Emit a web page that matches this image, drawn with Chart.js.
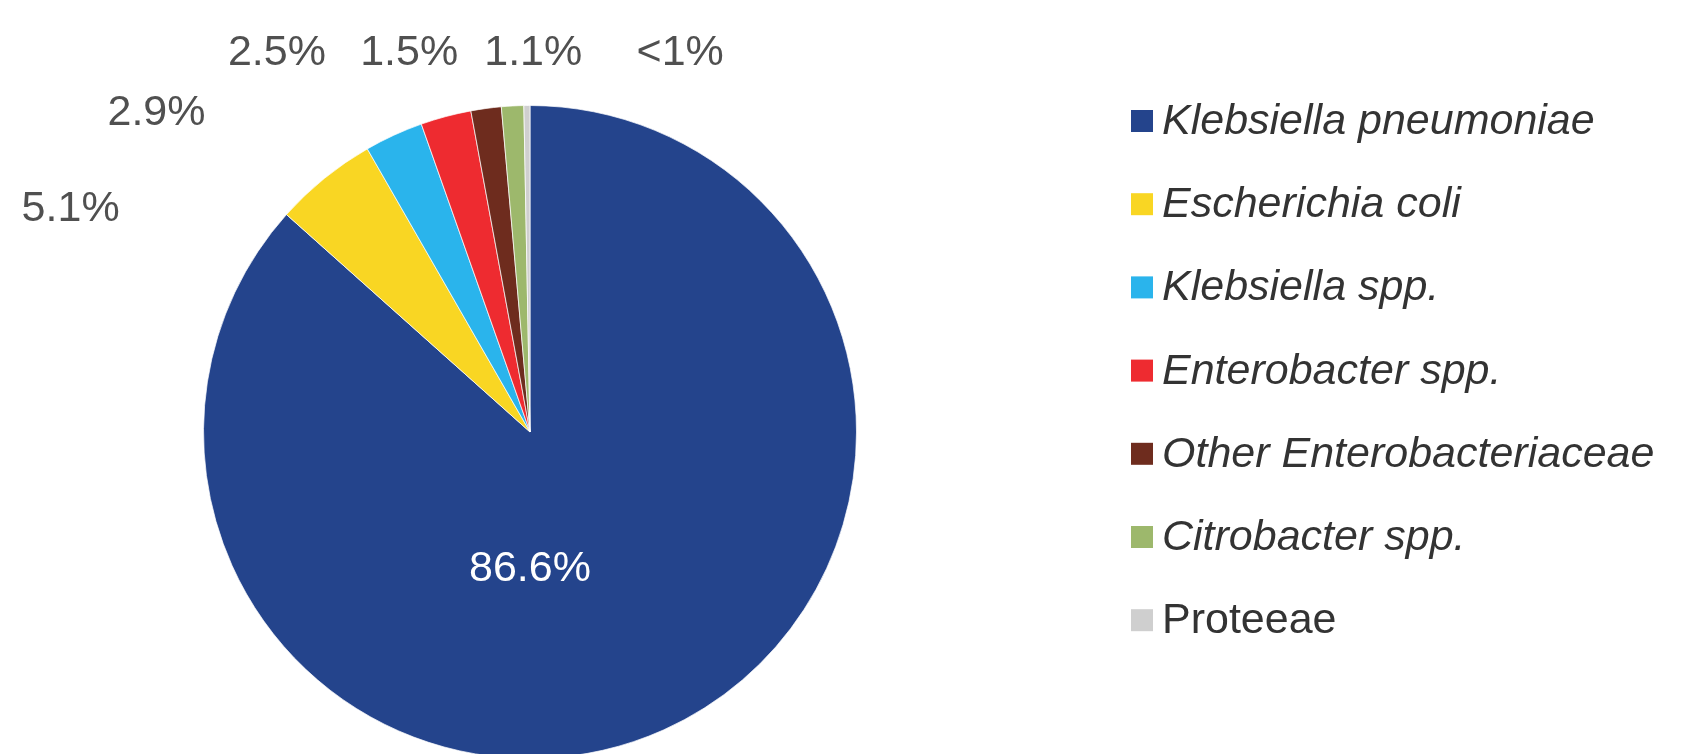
<!DOCTYPE html>
<html>
<head>
<meta charset="utf-8">
<script src="https://cdn.jsdelivr.net/npm/chart.js@4/dist/chart.umd.min.js"></script>
<style>
  html, body { margin: 0; padding: 0; background: #fff; overflow: hidden; }
  #wrap { position: absolute; left: 0; top: 0; width: 1683px; height: 800px; }
</style>
</head>
<body>
<div id="wrap"><canvas id="chart1" width="1683" height="800"></canvas></div>
<script>
// data
const organisms = [
    "Klebsiella pneumoniae",
    "Escherichia coli",
    "Klebsiella spp.",
    "Enterobacter spp.",
    "Other Enterobacteriaceae",
    "Citrobacter spp.",
    "Proteeae",
];
const shares = [86.6, 5.1, 2.9, 2.5, 1.5, 1.1, 0.3];
const shareLabels = ["86.6%", "5.1%", "2.9%", "2.5%", "1.5%", "1.1%", "<1%"];

// styles
const sliceColors = ["#24448c", "#f9d623", "#2ab4ec", "#ee2b30", "#6e2c1e", "#9db86c", "#cfcfcf"];
const uprightNames = ["Proteeae"];
// label placement, in units of pie radius from the centre
const labelSpots = [
    [0.0, 0.42],
    [-1.407, -0.682],
    [-1.144, -0.976],
    [-0.775, -1.16],
    [-0.37, -1.16],
    [0.01, -1.16],
    [0.46, -1.16],
];

const labelPlugin = {
    id: "pieLabels",
    afterDraw(chart) {
        const ctx = chart.ctx;
        const arcs = chart.getDatasetMeta(0).data;
        if (!arcs.length) return;
        const cx = arcs[0].x;
        const cy = arcs[0].y;
        const r = arcs[0].outerRadius;

        ctx.save();
        ctx.textAlign = "center";
        ctx.textBaseline = "middle";
        ctx.font = '43px "Liberation Sans", Arial, sans-serif';
        shareLabels.forEach((txt, i) => {
            ctx.fillStyle = i === 0 ? "#ffffff" : "#505050";
            ctx.fillText(txt, cx + labelSpots[i][0] * r, cy + labelSpots[i][1] * r);
        });

        // legend on the right
        const lx = 1131;
        const top = 121;
        const step = 83.2;
        ctx.textAlign = "left";
        organisms.forEach((name, i) => {
            const y = top + i * step;
            ctx.fillStyle = sliceColors[i];
            ctx.fillRect(lx, y - 11, 22, 22);
            ctx.fillStyle = "#333333";
            const style = uprightNames.includes(name) ? "" : "italic ";
            ctx.font = style + '43px "Liberation Sans", Arial, sans-serif';
            ctx.fillText(name, lx + 31, y + 1);
        });
        ctx.restore();
    },
};

let chart1 = null;

function initializeChart1() {
    const ctx1 = document.getElementById("chart1")?.getContext("2d");
    if (!ctx1) return;

    chart1 = new Chart(ctx1, {
        type: "pie",
        data: {
            labels: organisms,
            datasets: [
                {
                    data: shares,
                    backgroundColor: sliceColors,
                    borderColor: "rgba(255,255,255,0.7)",
                    borderWidth: 1,
                },
            ],
        },
        options: {
            responsive: false,
            animation: false,
            devicePixelRatio: 1,
            layout: {
                padding: { left: 203, right: 826, top: 105, bottom: 41 },
            },
            plugins: {
                legend: { display: false },
                tooltip: { enabled: false },
            },
        },
        plugins: [labelPlugin],
    });
}

document.addEventListener("DOMContentLoaded", initializeChart1);
</script>
</body>
</html>
